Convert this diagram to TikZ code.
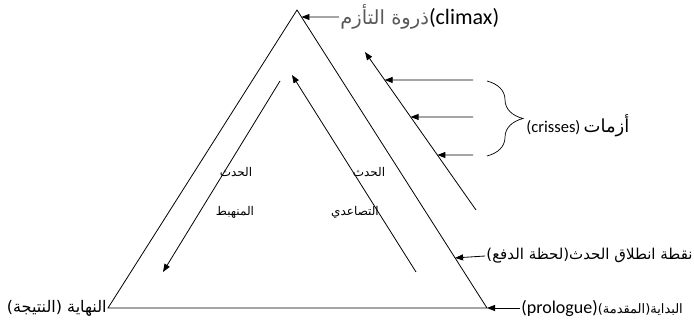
\documentclass[tikz,border=0pt]{standalone}
\usepackage{fontspec}
\setmainfont{Carlito}
\newfontfamily\arabicfont[Script=Arabic]{DejaVu Sans}
\TeXXeTstate=1
\usetikzlibrary{arrows.meta,calc,decorations.pathreplacing}

\newcommand{\artxt}[1]{{\arabicfont\beginR #1\endR}}
\newcommand{\fsz}[1]{\fontsize{#1}{#1}\selectfont}

\begin{document}
\begin{tikzpicture}[x=1pt,y=-1pt,>={Triangle[length=8pt,width=6pt]},line width=0.8pt,
 lbl/.style={inner sep=1pt,font=\fsz{14}},
 inlbl/.style={inner sep=0pt,font=\fsz{12}}]
 \useasboundingbox (0,0) rectangle (694,324);
 % the triangle
 \coordinate (top) at (297,10);
 \coordinate (bl) at (108,308);
 \coordinate (br) at (487,308);
 \draw (top) -- (bl) -- (br) -- cycle;
 % rising and falling action
 \coordinate (fa) at (280,81);
 \coordinate (fb) at (163,272);
 \coordinate (ra) at (416,272);
 \coordinate (rb) at (292,75);
 \draw[->] (fa) -- (fb);
 \draw[->] (ra) -- (rb);
 \node[inlbl] (fall1) at (236,172) {\artxt{الحدث}};
 \node[inlbl] (fall2) at (235,212) {\artxt{المنهبط}};
 \node[inlbl] (rise1) at (369,172) {\artxt{الحدث}};
 \node[inlbl] (rise2) at (355,212) {\artxt{التصاعدي}};
 % climax
 \node[lbl,anchor=west] (climax) at (339,17)
 {\textcolor{black!65}{\fsz{19.5}\artxt{ذروة التأزم}}{\fsz{22}(climax)}};
 \coordinate (ctip) at ($(top)!0.0235!(br)$);
 \draw[->] (climax.west) -- (ctip);
 % crises
 \coordinate (ka) at (476,210);
 \coordinate (kb) at (365,52);
 \draw[->] (ka) -- (kb);
 \foreach \t/\y [count=\i] in {0.177/80,0.411/117,0.652/155}{
 \coordinate (ks\i) at (473,\y);
 \coordinate (kt\i) at ($(kb)!\t!(ka)$);
 \draw[->] (ks\i) -- (kt\i);
 }
 \coordinate (bra) at (487,81);
 \coordinate (brb) at (487,156);
 \draw[line width=0.7pt,decorate,decoration={brace,amplitude=36pt}] (bra) -- (brb);
 \node[lbl,anchor=west] (crises) at (525,126)
 {{\fsz{16.5}(crisses)} {\fsz{18}\artxt{أزمات}}};
 % inciting moment
 \node[lbl,anchor=west,font=\fsz{15}] (incite) at (485,256) {\artxt{نقطة انطلاق الحدث(لحظة الدفع)}};
 \coordinate (itip) at ($(top)!0.832!(br)$);
 \draw[->] (incite.west) -- (itip);
 % prologue and ending
 \node[lbl,anchor=west] (prol) at (520,308)
 {{\fsz{18}(prologue)}{\fsz{13}\artxt{البداية(المقدمة)}}};
 \draw[->] (prol.west) -- (br);
 \node[lbl,anchor=east,font=\fsz{16}] (ending) at (bl) {\artxt{النهاية (النتيجة)}};
\end{tikzpicture}
\end{document}
